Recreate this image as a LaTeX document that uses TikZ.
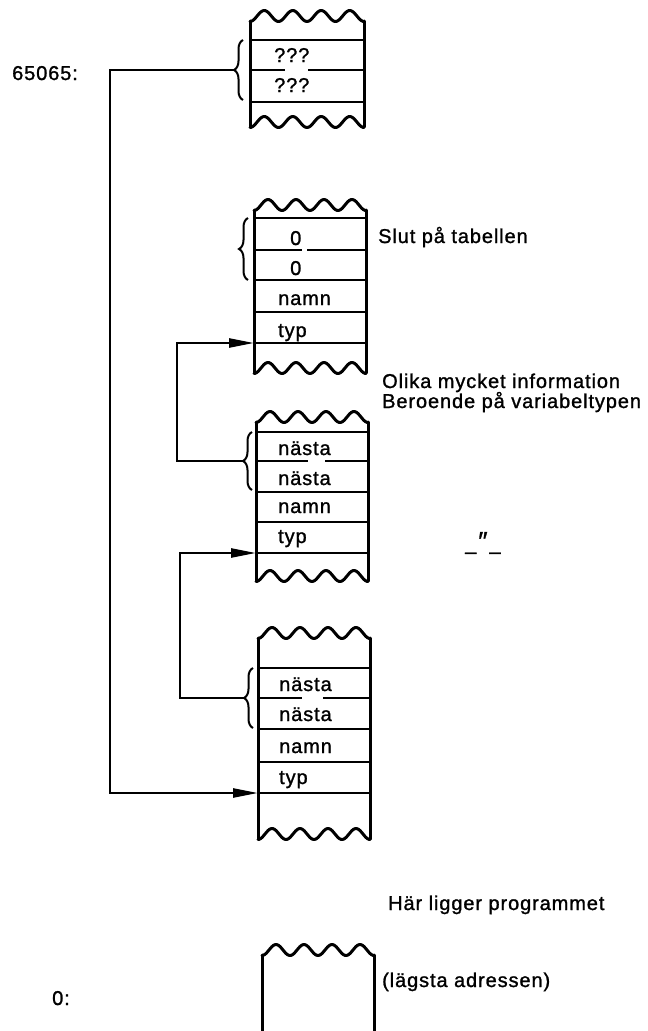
\documentclass[tikz,border=0pt]{standalone}
\usepackage{fontspec}
\setmainfont{Liberation Sans}[LetterSpace=4.5,FakeBold=1.2]
\usetikzlibrary{arrows.meta,decorations.pathreplacing}
\newcommand{\mywavetop}[3]{% L R T
  \draw[boxline] plot[domain=0:1,samples=90,smooth,variable=\t] ({#1+(#2-#1)*\t},{#3+5.5*cos(4*360*\t)});}
\begin{document}
\begin{tikzpicture}[x=1pt,y=-1pt,
  boxline/.style={line width=3pt, line join=round, line cap=round},
  rowline/.style={line width=2.8pt},
  conn/.style={line width=2.5pt, line join=miter},
  arr/.style={conn, -{Triangle[length=25pt,width=9pt]}},
  brc/.style={line width=2pt, decorate, decoration={brace,amplitude=9pt}},
  lbl/.style={anchor=base west, inner sep=0pt, font=\fontsize{20}{24}\selectfont},
]
\fill[white] (0,0) rectangle (648,1031);
\useasboundingbox (0,0) rectangle (648,1031);

% ---------- box 1 ----------
\mywavetop{250}{364}{16}
\mywavetop{250}{364}{122}
\draw[boxline] (250,21) -- (250,127);
\draw[boxline] (364,21) -- (364,127);
\draw[rowline] (250,40) -- (364,40);
\draw[rowline] (250,70) -- (285,70) (308,70) -- (364,70);
\draw[rowline] (250,102) -- (364,102);
\draw[brc] (243,100) -- (243,40);
\coordinate (br1) at (234,70);

% ---------- box 2 ----------
\mywavetop{254}{366}{205}
\mywavetop{254}{366}{368}
\draw[boxline] (254,210) -- (254,373);
\draw[boxline] (366,210) -- (366,373);
\draw[rowline] (254,218) -- (366,218);
\draw[rowline] (254,250) -- (302,250) (307,250) -- (366,250);
\draw[rowline] (254,280) -- (366,280);
\draw[rowline] (254,312) -- (366,312);
\draw[rowline] (254,343) -- (366,343);
\draw[brc] (248,280) -- (248,218);
\coordinate (a2) at (254,343);

% ---------- box 3 ----------
\mywavetop{256}{368}{417}
\mywavetop{256}{368}{576}
\draw[boxline] (256,422) -- (256,581);
\draw[boxline] (368,422) -- (368,581);
\draw[rowline] (256,432) -- (368,432);
\draw[rowline] (256,461) -- (308,461) (325,461) -- (368,461);
\draw[rowline] (256,492) -- (368,492);
\draw[rowline] (256,522) -- (368,522);
\draw[rowline] (256,553) -- (368,553);
\draw[brc] (252,490) -- (252,432);
\coordinate (br3) at (243,461);
\coordinate (a3) at (256,553);

% ---------- box 4 ----------
\mywavetop{258}{370}{633}
\mywavetop{258}{370}{834}
\draw[boxline] (258,638) -- (258,839);
\draw[boxline] (370,638) -- (370,839);
\draw[rowline] (258,668) -- (370,668);
\draw[rowline] (258,698) -- (302,698) (323,698) -- (370,698);
\draw[rowline] (258,729) -- (370,729);
\draw[rowline] (258,762) -- (370,762);
\draw[rowline] (258,793) -- (370,793);
\draw[brc] (253,728) -- (253,668);
\coordinate (br4) at (244,698);
\coordinate (a4) at (258,793);

% ---------- box 5 ----------
\mywavetop{262}{374}{950}
\draw[boxline] (262,955) -- (262,1031);
\draw[boxline] (374,955) -- (374,1031);

% ---------- connectors ----------
\coordinate (c1a) at (110,70);
\coordinate (c1b) at (110,793);
\coordinate (c3a) at (177,461);
\coordinate (c3b) at (177,343);
\coordinate (c4a) at (180,698);
\coordinate (c4b) at (180,553);
\draw[arr] (br1) -- (c1a) -- (c1b) -- (a4);
\draw[arr] (br3) -- (c3a) -- (c3b) -- (a2);
\draw[arr] (br4) -- (c4a) -- (c4b) -- (a3);

% ---------- texts ----------
\node[lbl] (t65065) at (12,80) {65065:};
\node[lbl] (q1) at (274,62) {???};
\node[lbl] (q2) at (274,92) {???};
\node[lbl] (z1) at (290,245) {0};
\node[lbl] (z2) at (290,275) {0};
\node[lbl] (namn2) at (278,305) {namn};
\node[lbl] (typ2) at (278,337) {typ};
\node[lbl] (nasta3a) at (278,455) {nästa};
\node[lbl] (nasta3b) at (278,485) {nästa};
\node[lbl] (namn3) at (278,513) {namn};
\node[lbl] (typ3) at (278,543) {typ};
\node[lbl] (nasta4a) at (279,691) {nästa};
\node[lbl] (nasta4b) at (279,721) {nästa};
\node[lbl] (namn4) at (279,753) {namn};
\node[lbl] (typ4) at (279,784) {typ};
\node[lbl] (slut) at (378,243) {Slut på tabellen};
\node[lbl] (olika) at (382,388) {Olika mycket information};
\node[lbl] (beroende) at (382,408) {Beroende på variabeltypen};
\node[lbl] (ditto) at (465,550) {\_\kern2pt{\fontsize{26}{26}\selectfont ″}\kern2pt\_};
\node[lbl] (har) at (388,910) {Här ligger programmet};
\node[lbl] (lagsta) at (382,987) {(lägsta adressen)};
\node[lbl] (zero) at (52,1005) {0:};
\end{tikzpicture}
\end{document}
